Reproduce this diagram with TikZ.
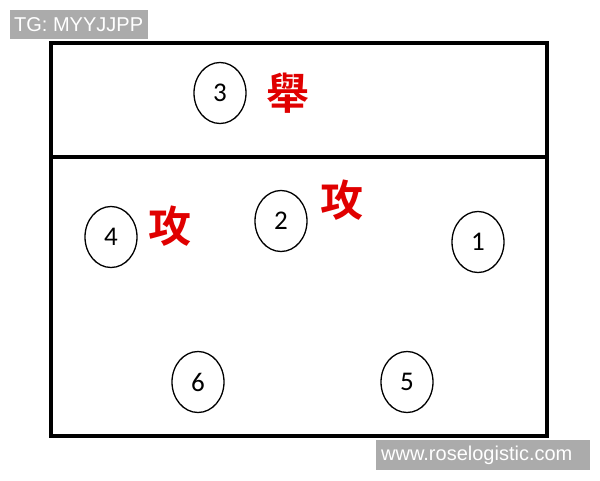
\documentclass[tikz,border=0pt]{standalone}
\usetikzlibrary{shapes.geometric}
\usepackage{fontspec}
\setmainfont{Carlito}
\newfontfamily\wmfont{Liberation Sans}
\newfontfamily\cjk[BoldFont=* Bold]{Noto Sans CJK TC}
\begin{document}
\begin{tikzpicture}[x=1pt,y=-1pt,
  player/.style={draw,ellipse,line width=1.3pt,minimum width=52pt,minimum height=61pt,inner sep=0pt,font=\fontsize{27}{27}\selectfont},
  action/.style={text=red!88!black,font=\cjk\bfseries\fontsize{43}{43}\selectfont,inner sep=0pt},
  wm/.style={text=white,font=\wmfont\fontsize{20}{20}\selectfont,inner sep=0pt,anchor=west}]
\useasboundingbox (0,0) rectangle (600,480);
\fill[white] (0,0) rectangle (600,480);
\draw[line width=4pt] (51,43) rectangle (547,436);
\draw[line width=4pt] (51,157) -- (547,157);
\node[player] (p3) at (220,93) {3};
\node[player] (p4) at (111,237) {4};
\node[player] (p2) at (281,221) {2};
\node[player] (p1) at (478,242) {1};
\node[player] (p6) at (198,382) {6};
\node[player] (p5) at (407,382) {5};
\node[action] (a3) at (288,93) {舉};
\node[action] (a4) at (170,226) {攻};
\node[action] (a2) at (342,200) {攻};
\fill[black!33] (10,10) rectangle (148,39);
\node[wm] (w1) at (14,25) {TG: MYYJJPP};
\fill[black!33] (376,440) rectangle (590,470);
\node[wm] (w2) at (381,455) {www.roselogistic.com};
\end{tikzpicture}
\end{document}
